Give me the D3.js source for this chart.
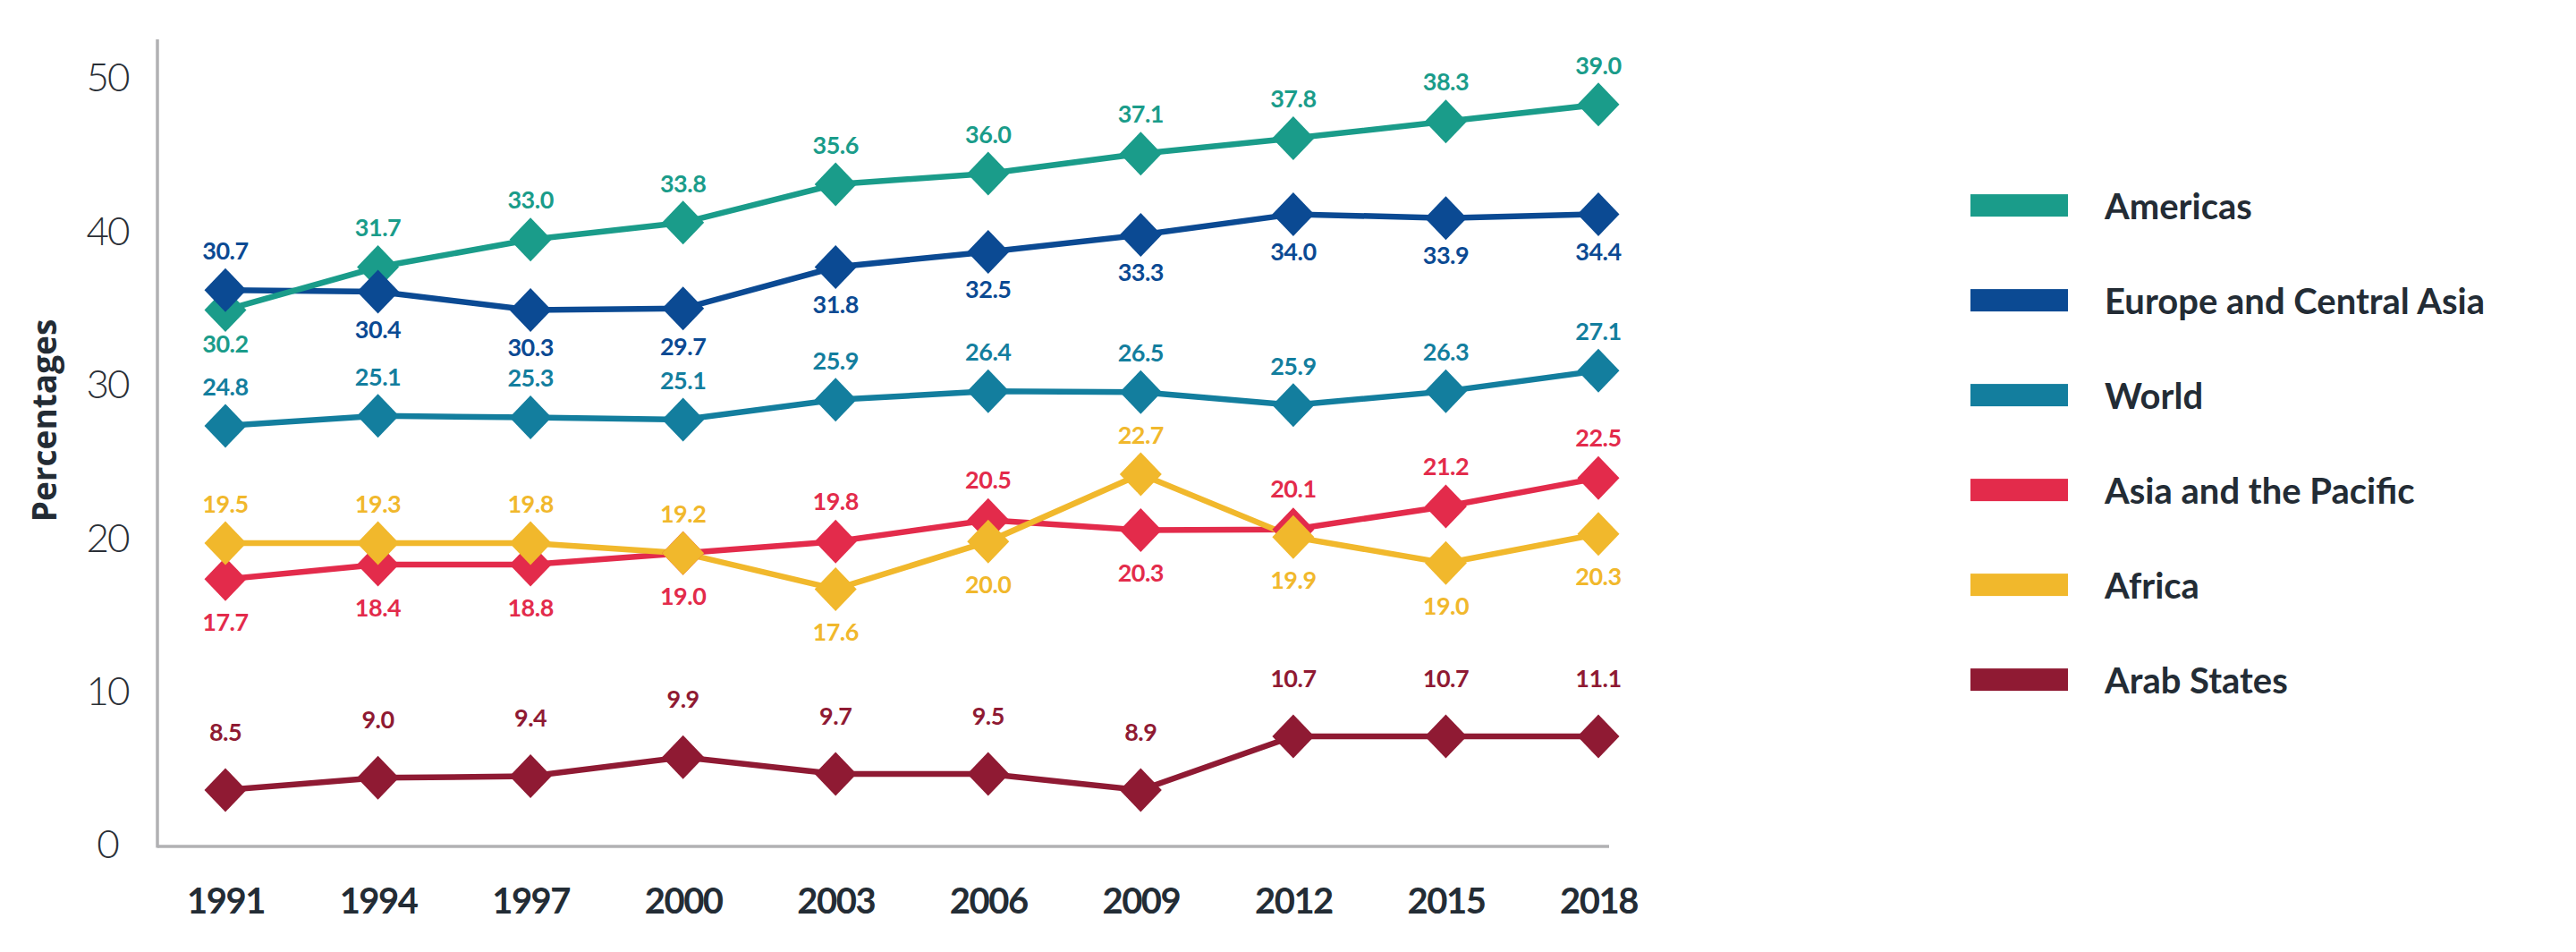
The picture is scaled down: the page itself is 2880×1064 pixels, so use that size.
<!DOCTYPE html>
<html>
<head>
<meta charset="utf-8">
<script src="https://cdn.jsdelivr.net/npm/d3@7/dist/d3.min.js"></script>
<style>
  html, body { margin: 0; padding: 0; background: #ffffff; }
  svg { display: block; }
</style>
</head>
<body>
<svg id="chart" width="2880" height="1064"></svg>
<script>
// ---------------- DATA ----------------
const years = ["1991","1994","1997","2000","2003","2006","2009","2012","2015","2018"];
const yTicks = [0, 10, 20, 30, 40, 50];
const seriesNames = ["Americas", "Europe and Central Asia", "World", "Asia and the Pacific", "Africa", "Arab States"];

// plotted marker positions
const americasPlot = [34.8, 37.6, 39.4, 40.5, 43.0, 43.7, 45.0, 46.0, 47.1, 48.2];
const europePlot   = [36.1, 36.0, 34.8, 34.9, 37.6, 38.6, 39.7, 41.05, 40.8, 41.05];
const worldPlot    = [27.25, 27.9, 27.8, 27.65, 28.95, 29.5, 29.45, 28.6, 29.5, 30.85];
const asiaPlot     = [17.25, 18.2, 18.2, 18.95, 19.7, 21.1, 20.45, 20.5, 22.0, 23.85];
const africaPlot   = [19.6, 19.6, 19.6, 18.95, 16.6, 19.7, 24.1, 20.0, 18.3, 20.2];
const arabPlot     = [3.5, 4.3, 4.4, 5.65, 4.55, 4.55, 3.5, 7.0, 7.0, 7.0];

// value labels printed next to the markers
const americasLabels = [30.2, 31.7, 33.0, 33.8, 35.6, 36.0, 37.1, 37.8, 38.3, 39.0];
const europeLabels   = [30.7, 30.4, 30.3, 29.7, 31.8, 32.5, 33.3, 34.0, 33.9, 34.4];
const worldLabels    = [24.8, 25.1, 25.3, 25.1, 25.9, 26.4, 26.5, 25.9, 26.3, 27.1];
const asiaLabels     = [17.7, 18.4, 18.8, 19.0, 19.8, 20.5, 20.3, 20.1, 21.2, 22.5];
const africaLabels   = [19.5, 19.3, 19.8, 19.2, 17.6, 20.0, 22.7, 19.9, 19.0, 20.3];
const arabLabels     = [8.5, 9.0, 9.4, 9.9, 9.7, 9.5, 8.9, 10.7, 10.7, 11.1];

// which side of the marker each label sits on (a = above, b = below)
const americasSide = ["b","a","a","a","a","a","a","a","a","a"];
const europeSide   = ["a","b","b","b","b","b","b","b","b","b"];
const worldSide    = ["a","a","a","a","a","a","a","a","a","a"];
const asiaSide     = ["b","b","b","b","a","a","b","a","a","a"];
const africaSide   = ["a","a","a","a","b","b","a","b","b","b"];
const arabSide     = ["a","a","a","a","a","a","a","a","a","a"];

// ---------------- STYLE ----------------
const colors = ["#1a9c8a", "#0b4a93", "#137e9e", "#e32b4b", "#f1b82c", "#8f1a33"];
const labelGap = [
  {a: 44, b: 38}, {a: 44, b: 42}, {a: 44, b: 42},
  {a: 45, b: 48}, {a: 44, b: 48}, {a: 65, b: 48}
];
const textDark = "#232c35";

const series = seriesNames.map((name, i) => ({
  name,
  color: colors[i],
  plot: [americasPlot, europePlot, worldPlot, asiaPlot, africaPlot, arabPlot][i],
  labels: [americasLabels, europeLabels, worldLabels, asiaLabels, africaLabels, arabLabels][i],
  side: [americasSide, europeSide, worldSide, asiaSide, africaSide, arabSide][i],
  gap: labelGap[i]
}));

const svg = d3.select("#chart");
svg.append("rect").attr("width", 2880).attr("height", 1064).attr("fill", "#fff");

const x = d3.scalePoint().domain(years).range([252, 1787]);
const y = d3.scaleLinear().domain([0, 50]).range([943, 86]);

const axisLeftX = 176, axisBottomY = 946;

// y axis
const gy = svg.append("g").attr("transform", `translate(${axisLeftX},0)`)
  .call(d3.axisLeft(y).tickValues(yTicks).tickSize(0).tickFormat(d3.format("d")));
gy.select(".domain").remove();
gy.selectAll("text")
  .attr("x", -56).attr("dy", "0.36em")
  .attr("text-anchor", "middle")
  .attr("fill", "#2a2f36")
  .style("font-family", "Lato, 'Open Sans', sans-serif")
  .style("font-weight", 300)
  .style("font-size", "44px")
  .style("letter-spacing", "-2px");

// x axis
const gx = svg.append("g").attr("transform", `translate(0,${axisBottomY})`)
  .call(d3.axisBottom(x).tickSize(0));
gx.select(".domain").remove();
gx.selectAll("text")
  .attr("y", 75).attr("dy", 0)
  .attr("text-anchor", "middle")
  .attr("fill", textDark)
  .style("font-family", "Lato, sans-serif")
  .style("font-weight", 700)
  .style("font-size", "40px")
  .style("letter-spacing", "-1.5px");

// axis lines
svg.append("line").attr("x1", axisLeftX).attr("x2", axisLeftX).attr("y1", 44).attr("y2", axisBottomY + 1.5)
  .attr("stroke", "#b1b1b3").attr("stroke-width", 3.5);
svg.append("line").attr("x1", axisLeftX).attr("x2", 1799).attr("y1", axisBottomY).attr("y2", axisBottomY)
  .attr("stroke", "#b1b1b3").attr("stroke-width", 3.5);

// y axis title
svg.append("text")
  .attr("transform", "translate(63,470) rotate(-90)")
  .attr("text-anchor", "middle")
  .attr("fill", textDark)
  .style("font-family", "'Open Sans', sans-serif")
  .style("font-weight", 700)
  .style("font-size", "37px")
  .text("Percentages");

// lines (drawing order chosen to match overlaps)
const lineOrder = [1, 0, 2, 3, 4, 5];
const line = d3.line().x((d, i) => x(years[i])).y(d => y(d));
const gLines = svg.append("g");
lineOrder.forEach(k => {
  const s = series[k];
  gLines.append("path")
    .attr("d", line(s.plot))
    .attr("fill", "none")
    .attr("stroke", s.color)
    .attr("stroke-width", 6.5)
    .attr("stroke-linejoin", "miter");
});

// diamond markers
const diamond = {
  draw(ctx, size) {
    const w = 23.5, h = 24.5;
    ctx.moveTo(0, -h); ctx.lineTo(w, 0); ctx.lineTo(0, h); ctx.lineTo(-w, 0); ctx.closePath();
  }
};
const sym = d3.symbol().type(diamond);
const gMarks = svg.append("g");
series.forEach(s => {
  gMarks.selectAll(null).data(s.plot).enter().append("path")
    .attr("d", sym())
    .attr("transform", (d, i) => `translate(${x(years[i])},${y(d)})`)
    .attr("fill", s.color);
});

// value labels
const gLab = svg.append("g");
series.forEach(s => {
  gLab.selectAll(null).data(s.labels).enter().append("text")
    .attr("x", (d, i) => x(years[i]))
    .attr("y", (d, i) => y(s.plot[i]) + (s.side[i] === "a" ? -s.gap.a : s.gap.b))
    .attr("dy", "0.36em")
    .attr("text-anchor", "middle")
    .attr("fill", s.color)
    .style("font-family", "Lato, sans-serif")
    .style("font-weight", 700)
    .style("font-size", "27px")
    .style("letter-spacing", "-0.5px")
    .text(d => d3.format(".1f")(d));
});

// legend
const legend = svg.append("g");
series.forEach((s, i) => {
  const cy = 229.6 + i * 106;
  legend.append("rect")
    .attr("x", 2203).attr("y", cy - 12.5).attr("width", 109).attr("height", 25)
    .attr("fill", s.color);
  legend.append("text")
    .attr("x", 2353).attr("y", cy + 15)
    .attr("fill", textDark)
    .style("font-family", "Lato, sans-serif")
    .style("font-weight", 700)
    .style("font-size", "40px")
    .text(s.name);
});
</script>
</body>
</html>
